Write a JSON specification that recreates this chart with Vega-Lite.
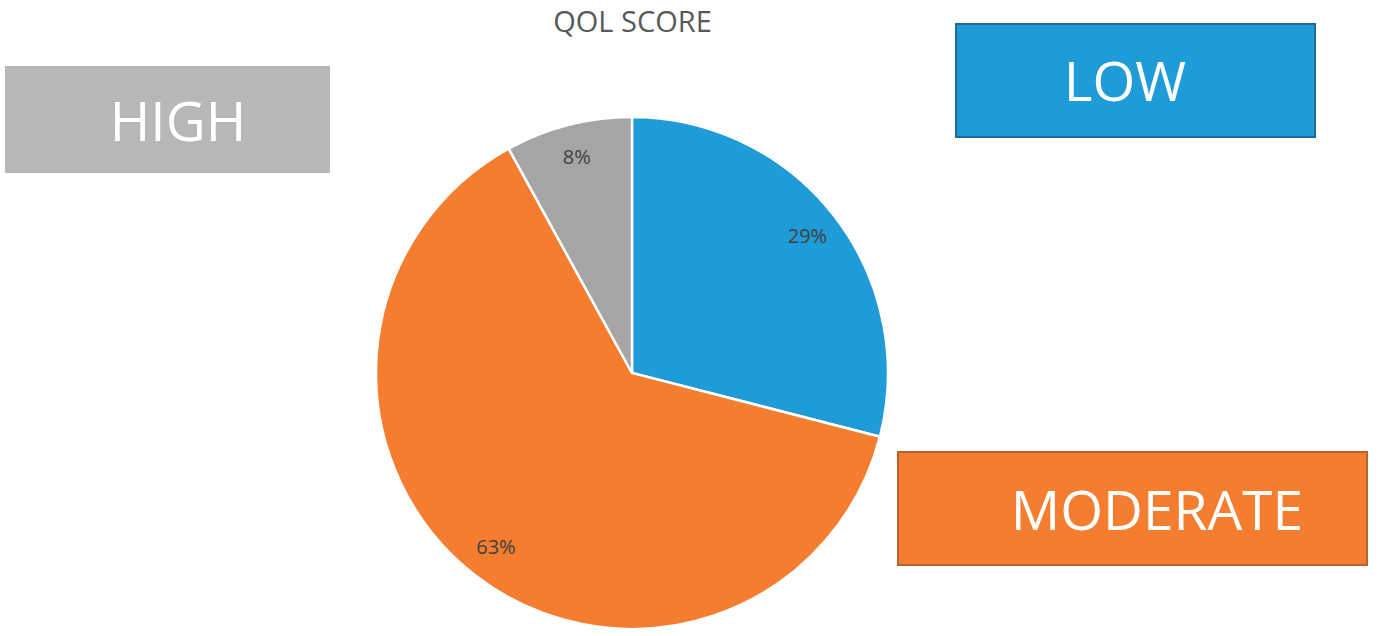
{
  "$schema": "https://vega.github.io/schema/vega-lite/v6.json",
  "width": 1395,
  "height": 636,
  "padding": 0,
  "autosize": {"type": "none"},
  "background": "white",
  "config": {"view": {"stroke": null}, "font": "Open Sans"},
  "title": {"text": "QOL SCORE", "anchor": "middle", "frame": "group", "dx": -65, "offset": -52, "baseline": "middle", "fontSize": 29, "fontWeight": "normal", "color": "#595959", "font": "Open Sans"},
  "data": {"values": [
    {"category": "LOW", "share": 0.29},
    {"category": "MODERATE", "share": 0.63},
    {"category": "HIGH", "share": 0.08}
  ]},
  "transform": [{"window": [{"op": "row_number", "as": "idx"}]}],
  "layer": [
    {
      "mark": {"type": "arc", "radius": 256, "stroke": "white", "strokeWidth": 2.5},
      "encoding": {
        "theta": {"field": "share", "type": "quantitative", "stack": true},
        "order": {"field": "idx", "type": "quantitative", "sort": "ascending"},
        "color": {"field": "category", "type": "nominal", "scale": {"domain": ["LOW", "MODERATE", "HIGH"], "range": ["#1f9bd7", "#f47d30", "#a5a5a5"]}, "legend": null},
        "x": {"datum": 632, "type": "quantitative", "scale": {"domain": [0, 1395], "nice": false, "zero": false}, "axis": null},
        "y": {"datum": 373, "type": "quantitative", "scale": {"domain": [0, 636], "reverse": true, "nice": false, "zero": false}, "axis": null}
      }
    },
    {
      "mark": {"type": "text", "radius": 222, "fontSize": 20, "color": "#404040", "font": "Open Sans"},
      "encoding": {
        "theta": {"field": "share", "type": "quantitative", "stack": true},
        "order": {"field": "idx", "type": "quantitative", "sort": "ascending"},
        "text": {"field": "share", "type": "quantitative", "format": ".0%"},
        "x": {"datum": 632, "type": "quantitative"},
        "y": {"datum": 373, "type": "quantitative"}
      }
    },
    {
      "transform": [{"filter": "datum.category === 'HIGH'"}],
      "layer": [
        {
          "mark": {"type": "rect", "fill": "#b7b7b7"},
          "encoding": {
            "x": {"datum": 5, "type": "quantitative"}, "x2": {"datum": 330},
            "y": {"datum": 66, "type": "quantitative"}, "y2": {"datum": 173}
          }
        },
        {
          "mark": {"type": "text", "fontSize": 55, "color": "white", "font": "Open Sans", "align": "center", "baseline": "middle"},
          "encoding": {
            "text": {"field": "category", "type": "nominal"},
            "x": {"datum": 178, "type": "quantitative"},
            "y": {"datum": 124, "type": "quantitative"}
          }
        }
      ]
    },
    {
      "transform": [{"filter": "datum.category === 'LOW'"}],
      "layer": [
        {
          "mark": {"type": "rect", "fill": "#1f9bd7", "stroke": "#1a6d98", "strokeWidth": 2},
          "encoding": {
            "x": {"datum": 956, "type": "quantitative"}, "x2": {"datum": 1315},
            "y": {"datum": 24, "type": "quantitative"}, "y2": {"datum": 137}
          }
        },
        {
          "mark": {"type": "text", "fontSize": 55, "color": "white", "font": "Open Sans", "align": "center", "baseline": "middle"},
          "encoding": {
            "text": {"field": "category", "type": "nominal"},
            "x": {"datum": 1125, "type": "quantitative"},
            "y": {"datum": 84, "type": "quantitative"}
          }
        }
      ]
    },
    {
      "transform": [{"filter": "datum.category === 'MODERATE'"}],
      "layer": [
        {
          "mark": {"type": "rect", "fill": "#f47d30", "stroke": "#b9622a", "strokeWidth": 2},
          "encoding": {
            "x": {"datum": 898, "type": "quantitative"}, "x2": {"datum": 1367},
            "y": {"datum": 452, "type": "quantitative"}, "y2": {"datum": 565}
          }
        },
        {
          "mark": {"type": "text", "fontSize": 55, "color": "white", "font": "Open Sans", "align": "center", "baseline": "middle"},
          "encoding": {
            "text": {"field": "category", "type": "nominal"},
            "x": {"datum": 1157, "type": "quantitative"},
            "y": {"datum": 513, "type": "quantitative"}
          }
        }
      ]
    }
  ]
}
